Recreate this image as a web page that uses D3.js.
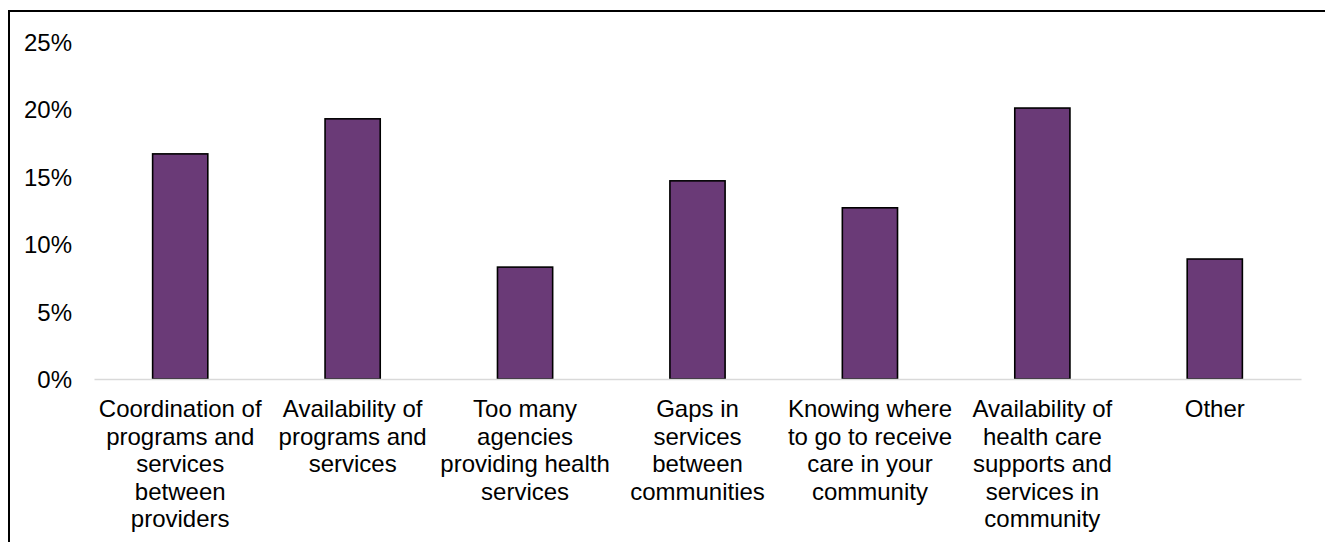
<!DOCTYPE html>
<html>
<head>
<meta charset="utf-8">
<script src="https://cdn.jsdelivr.net/npm/d3@7"></script>
<style>
  html, body { margin: 0; padding: 0; background: #fff; }
  svg { display: block; }
  text { font-family: "Liberation Sans", Arial, sans-serif; fill: #000; }
</style>
</head>
<body>
<svg id="chart" width="1325" height="542"></svg>
<script>
// Category labels (line breaks as shown under each bar)
const categories = [
  "Coordination of\nprograms and\nservices\nbetween\nproviders",
  "Availability of\nprograms and\nservices",
  "Too many\nagencies\nproviding health\nservices",
  "Gaps in\nservices\nbetween\ncommunities",
  "Knowing where\nto go to receive\ncare in your\ncommunity",
  "Availability of\nhealth care\nsupports and\nservices in\ncommunity",
  "Other"
];
// Share of responses per category
const values = [0.167, 0.193, 0.083, 0.147, 0.127, 0.201, 0.089];
// Y-axis tick values
const yTicks = [0, 0.05, 0.10, 0.15, 0.20, 0.25];

const W = 1325, H = 542;
const svg = d3.select("#chart");

// outer frame (left and top edges)
svg.append("path")
  .attr("d", `M9,${H} L9,11 L${W},11`)
  .attr("fill", "none")
  .attr("stroke", "#000")
  .attr("stroke-width", 2);

const x = d3.scaleBand()
  .domain(categories)
  .range([94, 1301])
  .paddingInner(0.68)
  .paddingOuter(0.34);

const y = d3.scaleLinear()
  .domain([0, 0.25])
  .range([379, 42]);

// y axis labels
const yAxis = d3.axisLeft(y)
  .tickValues(yTicks)
  .tickFormat(d3.format(".0%"))
  .tickSize(0)
  .tickPadding(0);

const gy = svg.append("g")
  .attr("transform", "translate(72,0)")
  .call(yAxis);
gy.select(".domain").remove();
gy.selectAll("text")
  .attr("font-size", 24)
  .attr("font-family", "Liberation Sans, Arial, sans-serif")
  .attr("fill", "#000")
  .attr("x", 0)
  .attr("dy", "0.35em");

// bars
svg.append("g")
  .selectAll("rect")
  .data(values)
  .join("rect")
  .attr("x", (d, i) => x(categories[i]))
  .attr("y", d => y(d))
  .attr("width", x.bandwidth())
  .attr("height", d => y(0) - y(d))
  .attr("fill", "#6a3a77")
  .attr("stroke", "#000")
  .attr("stroke-width", 1.6);

// category axis
const xAxis = d3.axisBottom(x).tickSize(0).tickFormat("");
const gx = svg.append("g")
  .attr("transform", `translate(0,${y(0)})`)
  .call(xAxis);
gx.select(".domain")
  .attr("stroke", "#d9d9d9")
  .attr("stroke-width", 1.5);

const lineH = 27.5;
gx.selectAll(".tick").each(function (d) {
  const t = d3.select(this).select("text")
    .attr("y", 0)
    .attr("dy", null)
    .attr("font-size", 24)
    .attr("font-family", "Liberation Sans, Arial, sans-serif")
    .attr("fill", "#000")
    .attr("text-anchor", "middle");
  d.split("\n").forEach((line, i) => {
    t.append("tspan")
      .attr("x", 0)
      .attr("y", 38 + i * lineH)
      .text(line);
  });
});
</script>
</body>
</html>
